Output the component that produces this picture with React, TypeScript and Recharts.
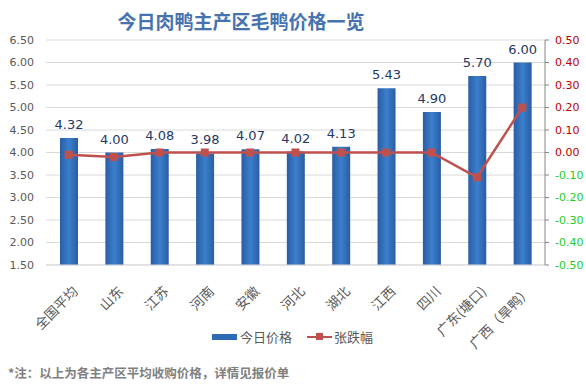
import React from 'react';
import { ComposedChart, Bar, Line, XAxis, YAxis, CartesianGrid, LabelList } from 'recharts';

const categories = ['全国平均', '山东', '江苏', '河南', '安徽', '河北', '湖北', '江西', '四川', '广东(塘口)', '广西（旱鸭）'];
const prices = [4.32, 4.0, 4.08, 3.98, 4.07, 4.02, 4.13, 5.43, 4.9, 5.7, 6.0];
const changes = [-0.01, -0.02, 0.0, 0.0, 0.0, 0.0, 0.0, 0.0, 0.0, -0.11, 0.2];
const leftTicks = [1.5, 2.0, 2.5, 3.0, 3.5, 4.0, 4.5, 5.0, 5.5, 6.0, 6.5];
const rightTicks = [-0.5, -0.4, -0.3, -0.2, -0.1, 0.0, 0.1, 0.2, 0.3, 0.4, 0.5];

const data = categories.map((name, i) => ({ name, price: prices[i], change: changes[i] }));

const CJK = '"Noto Sans CJK SC", "Noto Sans", sans-serif';
const NUM = '"DejaVu Sans", Verdana, sans-serif';

const XTick = (props: any) => {
  const { x, y, payload } = props;
  const ax = x + 6;
  const ay = y + 15;
  return (
    <text
      x={ax}
      y={ay}
      transform={`rotate(-45, ${ax}, ${ay})`}
      textAnchor="end"
      dominantBaseline="central"
      fontSize={13.5}
      fontFamily={CJK}
      fill="#595959"
    >
      {payload.value}
    </text>
  );
};

const RightTick = (props: any) => {
  const { x, y, payload } = props;
  const v = Number(payload.value);
  return (
    <text x={x + 4} y={y} dominantBaseline="central" textAnchor="start" fontSize={11} fontFamily={NUM}
      fill={v < -0.001 ? '#22cc22' : '#c00000'}>
      {v.toFixed(2)}
    </text>
  );
};

const Square = (props: any) => {
  const { cx, cy } = props;
  return <rect x={cx - 4} y={cy - 4} width={8} height={8} fill="#c0504d" />;
};

export default function App() {
  return (
    <div style={{ position: 'fixed', left: 0, top: 0, width: 586, height: 390, background: '#fff' }}>
      <div style={{ position: 'absolute', left: 0, width: 482, top: 8, textAlign: 'center', fontFamily: CJK, fontWeight: 'bold', fontSize: 19, color: '#4673b0', lineHeight: '26px' }}>
        今日肉鸭主产区毛鸭价格一览
      </div>
      <ComposedChart width={586} height={390} data={data} margin={{ top: 40, right: 0, bottom: 45, left: 0 }}>
        <defs>
          <linearGradient id="barGrad" x1="0" y1="0" x2="1" y2="0">
            <stop offset="0%" stopColor="#2a5da3" />
            <stop offset="50%" stopColor="#3b7fcd" />
            <stop offset="100%" stopColor="#2a5da3" />
          </linearGradient>
        </defs>
        <CartesianGrid vertical={false} stroke="#d9d9d9" yAxisId="left" />
        <XAxis dataKey="name" height={80} interval={0} axisLine={{ stroke: '#d9d9d9' }} tickLine={false} tick={<XTick />} />
        <YAxis yAxisId="left" orientation="left" width={46} domain={[1.5, 6.5]} ticks={leftTicks} interval={0}
          axisLine={false} tickLine={false} tickMargin={6}
          tick={{ fontSize: 11, fontFamily: NUM, fill: '#595959' }}
          tickFormatter={(v: number) => v.toFixed(2)} />
        <YAxis yAxisId="right" orientation="right" width={41} domain={[-0.5, 0.5]} ticks={rightTicks} interval={0}
          axisLine={{ stroke: '#868686' }} tickLine={{ stroke: '#868686' }} tickSize={4}
          tick={<RightTick />} />
        <Bar yAxisId="left" dataKey="price" barSize={18} fill="url(#barGrad)" isAnimationActive={false}>
          <LabelList dataKey="price" position="top" offset={9} formatter={(v: any) => Number(v).toFixed(2)}
            style={{ fontSize: 13, fontFamily: NUM, fill: '#1f3864' }} />
        </Bar>
        <Line yAxisId="right" dataKey="change" stroke="#c0504d" strokeWidth={2.5} dot={<Square />} activeDot={false} isAnimationActive={false} />
      </ComposedChart>
      <div style={{ position: 'absolute', top: 329, left: 212, display: 'flex', alignItems: 'center', fontFamily: CJK, fontSize: 13, color: '#595959', lineHeight: '16px' }}>
        <span style={{ display: 'inline-block', width: 25, height: 6, background: '#2e6bb5', marginRight: 3 }} />
        <span>今日价格</span>
        <span style={{ display: 'inline-block', position: 'relative', width: 25, height: 8, marginLeft: 15, marginRight: 2 }}>
          <span style={{ position: 'absolute', left: 0, top: 3, width: 25, height: 2, background: '#c0504d' }} />
          <span style={{ position: 'absolute', left: 9, top: 0, width: 7, height: 7, background: '#c0504d' }} />
        </span>
        <span>张跌幅</span>
      </div>
      <div style={{ position: 'absolute', top: 364, left: 8, fontFamily: CJK, fontSize: 12.5, fontWeight: 'bold', color: '#7f7f7f', lineHeight: '18px' }}>
        *注：以上为各主产区平均收购价格，详情见报价单
      </div>
    </div>
  );
}
